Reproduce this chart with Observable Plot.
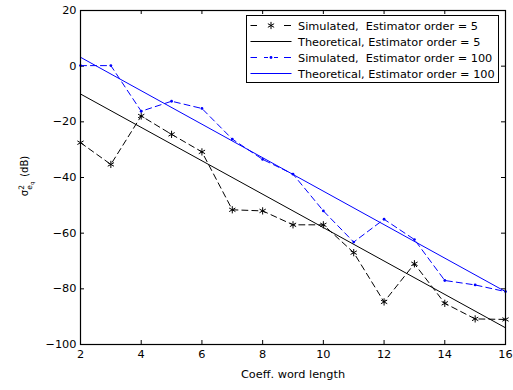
<!DOCTYPE html>
<html>
<head>
<meta charset="utf-8">
<script src="https://cdn.jsdelivr.net/npm/d3@7"></script>
<script src="https://cdn.jsdelivr.net/npm/@observablehq/plot@0.6"></script>
<style>
  html, body { margin: 0; padding: 0; background: #fff; }
  #wrap { position: relative; width: 513px; height: 390px; }
  #wrap svg { display: block; }
</style>
</head>
<body>
<div id="wrap"></div>
<script>
// ---- data ----
const wordLength = [2, 3, 4, 5, 6, 7, 8, 9, 10, 11, 12, 13, 14, 15, 16];
const sim5   = [-27.5, -35.3, -17.9, -24.5, -30.8, -51.6, -52, -57, -57, -67, -84.7, -71, -85.2, -90.8, -91];
const sim100 = [0.2, 0.2, -16.2, -12.6, -15.2, -26.2, -33.5, -38.8, -52, -63.2, -55, -62.3, -77, -78.6, -81];
const theoX  = [2, 16];
const theo5  = [-10, -94];
const theo100 = [3.2, -81];
const xTicks = [2, 4, 6, 8, 10, 12, 14, 16];
const yTicks = [-100, -80, -60, -40, -20, 0, 20];
const xLabel = "Coeff. word length";
const legendLabels = [
  "Simulated,  Estimator order = 5",
  "Theoretical, Estimator order = 5",
  "Simulated,  Estimator order = 100",
  "Theoretical, Estimator order = 100"
];

const black = "#000000", blue = "#0000ff";
const font = "'DejaVu Sans', sans-serif";

const s5 = wordLength.map((x, i) => ({x, y: sim5[i]}));
const s100 = wordLength.map((x, i) => ({x, y: sim100[i]}));
const t5 = theoX.map((x, i) => ({x, y: theo5[i]}));
const t100 = theoX.map((x, i) => ({x, y: theo100[i]}));

const W = 513, H = 390, mL = 80, mR = 8, mT = 10, mB = 46;
const fw = W - mL - mR, fh = H - mT - mB, tl = 4;

const chart = Plot.plot({
  width: W, height: H,
  marginLeft: mL, marginRight: mR, marginTop: mT, marginBottom: mB,
  style: {fontFamily: font, fontSize: "11.3px", color: "#000", background: "#fff"},
  x: {domain: [2, 16], label: null},
  y: {domain: [-100, 20], label: null},
  marks: [
    // inward ticks on all four sides
    Plot.tickX(xTicks, {x: d => d, insetTop: fh - tl, stroke: black, strokeWidth: 1}),
    Plot.tickX(xTicks, {x: d => d, insetBottom: fh - tl, stroke: black, strokeWidth: 1}),
    Plot.tickY(yTicks, {y: d => d, insetRight: fw - tl, stroke: black, strokeWidth: 1}),
    Plot.tickY(yTicks, {y: d => d, insetLeft: fw - tl, stroke: black, strokeWidth: 1}),
    Plot.axisX(xTicks, {tickSize: 0, tickPadding: 5, label: null, fontSize: 11.3}),
    Plot.axisY(yTicks, {tickSize: 0, tickPadding: 4, label: null, fontSize: 11.3}),
    Plot.text([xLabel], {frameAnchor: "bottom", dy: 33, fontSize: 11.3, fill: black}),
    // theoretical lines
    Plot.line(t5, {x: "x", y: "y", stroke: black, strokeWidth: 1}),
    Plot.line(t100, {x: "x", y: "y", stroke: blue, strokeWidth: 1}),
    // simulated
    Plot.line(s5, {x: "x", y: "y", stroke: black, strokeWidth: 1, strokeDasharray: "6,4"}),
    Plot.dot(s5, {x: "x", y: "y", symbol: "asterisk", r: 3.4, stroke: black, strokeWidth: 1}),
    Plot.line(s100, {x: "x", y: "y", stroke: blue, strokeWidth: 1, strokeDasharray: "6,4"}),
    Plot.dot(s100, {x: "x", y: "y", r: 1.4, fill: blue}),
    Plot.frame({stroke: black, strokeWidth: 1.2})
  ]
});

document.getElementById("wrap").appendChild(chart);
const svg = d3.select(chart);

// y-axis label: sigma^2_{e_q} (dB)
const yl = svg.append("text")
  .attr("transform", "translate(28,176) rotate(-90)")
  .attr("text-anchor", "middle")
  .attr("font-family", font)
  .attr("font-size", 10)
  .attr("fill", black);
yl.append("tspan").text("σ");
yl.append("tspan").attr("font-size", 7.5).attr("dy", -4.5).text("2");
yl.append("tspan").attr("font-size", 7.5).attr("dx", -4.6).attr("dy", 8).text("e");
yl.append("tspan").attr("font-size", 5.5).attr("dy", 2).text("q");
yl.append("tspan").attr("dy", -5.5).attr("dx", 1.5).text(" (dB)");

// legend
const lg = svg.append("g");
lg.append("rect").attr("x", 246.5).attr("y", 15.5).attr("width", 252).attr("height", 67)
  .attr("fill", "#fff").attr("stroke", black).attr("stroke-width", 1);
const rows = [
  {color: black, segs: [[250.5, 257], [284, 291]], marker: "star"},
  {color: black, segs: [[250.5, 291.5]], marker: null},
  {color: blue, segs: [[250.5, 257], [264, 268], [274, 278], [284, 291]], marker: "dot"},
  {color: blue, segs: [[250.5, 291.5]], marker: null}
];
rows.forEach((r, i) => {
  const y = 25.5 + 16 * i;
  r.segs.forEach(s => {
    lg.append("line").attr("x1", s[0]).attr("x2", s[1]).attr("y1", y).attr("y2", y)
      .attr("stroke", r.color).attr("stroke-width", 1);
  });
  if (r.marker === "star") {
    lg.append("path").attr("d", d3.symbol(d3.symbolAsterisk, Math.PI * 3.4 * 3.4)())
      .attr("transform", `translate(271,${y})`).attr("stroke", r.color).attr("fill", "none");
  } else if (r.marker === "dot") {
    lg.append("circle").attr("cx", 271).attr("cy", y).attr("r", 1.4).attr("fill", r.color);
  }
  lg.append("text").attr("x", 298).attr("y", y).attr("dy", "0.36em")
    .attr("text-anchor", "start")
    .attr("font-family", font).attr("font-size", 11.3).attr("fill", black)
    .style("white-space", "pre")
    .text(legendLabels[i]);
});
</script>
</body>
</html>
